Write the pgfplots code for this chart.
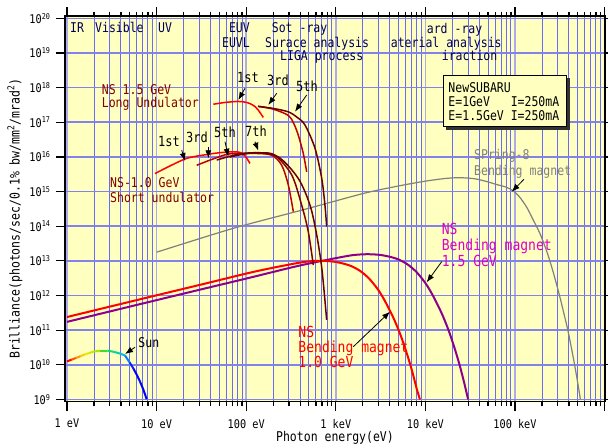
\documentclass[border=0pt]{standalone}
\usepackage{fontspec}
\usepackage{pgfplots}
\pgfplotsset{compat=1.18}
\usetikzlibrary{arrows.meta}
\newfontfamily\gothic[FakeStretch=0.855]{DejaVu Sans Mono}
\newcommand\F[1]{\gothic\fontsize{#1}{#1}\selectfont}
\definecolor{bgyel}{RGB}{255,255,192}
\definecolor{gridmaj}{RGB}{172,172,236}
\definecolor{gridmin}{RGB}{105,105,250}
\definecolor{gridh}{RGB}{130,130,235}
\definecolor{navy}{RGB}{0,0,90}
\definecolor{maroon}{RGB}{128,0,0}
\definecolor{bmpurple}{RGB}{140,0,140}
\definecolor{magtext}{RGB}{220,0,200}
\definecolor{sgrey}{RGB}{128,128,128}
\definecolor{und3}{RGB}{190,0,0}
\definecolor{und5}{RGB}{128,0,0}
\definecolor{und7}{RGB}{105,0,0}
\pgfplotsset{colormap={sun}{rgb255=(255,0,0) rgb255=(255,140,0) rgb255=(255,230,0) rgb255=(170,230,0) rgb255=(40,215,60) rgb255=(0,215,150) rgb255=(0,205,225) rgb255=(0,130,255) rgb255=(0,50,255) rgb255=(0,0,255)}}
\begin{document}
\begin{tikzpicture}
\useasboundingbox (-65bp,-45.3bp) rectangle (543bp,401.7bp);
\begin{axis}[
  at={(0,0)}, anchor=south west,
  scale only axis, width=540bp, height=385.4bp,
  xmode=log, ymode=log,
  xmin=0.95, xmax=1.0104e6,
  ymin=8.65e8, ymax=1.143e20,
  axis background/.style={fill=bgyel},
  xtick={1,10,100,1000,10000,100000,1000000},
  xticklabels={1 eV,10 eV,100 eV,1 keV,10 keV,100 keV,},
  ytick={1e9,1e10,1e11,1e12,1e13,1e14,1e15,1e16,1e17,1e18,1e19,1e20},
  yticklabels={10\textsuperscript{9},10\textsuperscript{10},10\textsuperscript{11},10\textsuperscript{12},10\textsuperscript{13},10\textsuperscript{14},10\textsuperscript{15},10\textsuperscript{16},10\textsuperscript{17},10\textsuperscript{18},10\textsuperscript{19},10\textsuperscript{20}},
  yminorticks=false,
  xmajorgrids=true, xminorgrids=true, ymajorgrids=true,
  major x grid style={gridmaj, line width=1.8bp},
  minor x grid style={gridmin, line width=0.9bp},
  major y grid style={gridh, line width=1.6bp},
  tick align=outside,
  major tick length=9bp, minor tick length=4.5bp,
  tick style={black, line width=1.2bp},
  axis line style={black, line width=1.6bp},
  tick label style={font=\F{12}},
  xticklabel style={yshift=-5bp},
  yticklabel style={xshift=-2bp},
  colormap name=sun, point meta min=0, point meta max=9,
]
% Sun
\addplot[mesh, line width=2bp, point meta=explicit, shader=flat corner] table[meta=c] {
x y c
1.0 1.26e10 0
1.13 1.42e10 0.6
1.26 1.58e10 1.1
1.42 1.79e10 1.7
1.58 2.0e10 2.2
1.77 2.2e10 2.6
1.97 2.4e10 3.0
2.33 2.57e10 3.8
2.82 2.57e10 4.5
3.29 2.4e10 5.3
3.98 2.09e10 6.2
4.44 1.86e10 7.0
5.01 1.17e10 8.3
5.50 7.9e9 9
6.03 5.1e9 9
6.53 3.3e9 9
7.08 2.0e9 9
7.76 1.02e9 9
};
% SPring-8 bending magnet
\addplot[sgrey, line width=1.2bp, smooth] coordinates {
(10,1.78e13) (71.8,8.71e13) (398,2.82e14) (933,5.13e14) (2213,9.33e14) (5212,1.48e15) (10000,2.0e15) (17000,2.40e15) (24500,2.51e15) (35500,2.34e15) (48300,1.95e15) (63100,1.58e15) (79400,1.35e15) (95500,1.05e15) (112000,7.08e14) (135000,3.55e14) (160000,1.51e14) (190500,6.03e13) (230000,1.66e13) (270000,4.27e12) (316000,9.33e11) (350000,3.16e11) (389000,1.0e11) (450000,1.48e10) (500000,3.16e9) (537000,1.0e9)
};
% NS bending magnet 1.5 GeV
\addplot[bmpurple, line width=2bp, smooth] coordinates {
(1,1.74e11) (5.01,4.79e11) (30.5,1.48e12) (100,3.09e12) (308,6.31e12) (515,8.51e12) (1000,1.20e13) (1500,1.45e13) (2028,1.55e13) (2512,1.55e13) (3162,1.48e13) (3981,1.32e13) (5012,1.10e13) (6310,7.94e12) (7943,4.79e12) (10000,2.29e12) (12000,1.05e12) (15000,3.31e11) (18000,1.05e11) (21000,3.24e10) (24000,1.02e10) (27000,3.16e9) (30000,1.0e9)
};
% NS bending magnet 1.0 GeV
\addplot[red, line width=2bp, smooth] coordinates {
(1,2.40e11) (9.04,9.55e11) (29.63,2.0e12) (91.3,4.07e12) (152.6,5.50e12) (296.3,7.76e12) (444.4,9.33e12) (600.9,1.0e13) (744.3,1.0e13) (936.9,9.55e12) (1179.6,8.51e12) (1485,7.08e12) (1870,5.13e12) (2353,3.09e12) (2963,1.48e12) (3556,6.76e11) (4444,2.14e11) (5333,6.76e10) (6222,2.09e10) (7111,6.61e9) (8000,2.04e9) (8700,1.0e9)
};
% NS 1.5 GeV long undulator
\addplot[red, line width=1.5bp, smooth] coordinates {
(42.95,3.31e17) (57.5,3.72e17) (78.3,3.98e17) (93.3,3.89e17) (110.2,3.47e17) (125.9,2.82e17) (136.5,2.24e17) (155.2,1.38e17)
};
\addplot[und3, line width=1.5bp, smooth] coordinates {
(135.5,2.88e17) (199.5,2.40e17) (295,1.58e17) (338.8,9.33e16) (381,4.27e16) (433.5,1.26e16) (473,3.72e15)
};
\addplot[und7, line width=1.5bp, smooth] coordinates {
(135.5,2.88e17) (199.5,2.51e17) (295,2.0e17) (371.5,1.38e17) (452.9,8.32e16) (586,1.78e16) (696.6,2.40e15) (756.8,4.07e14) (790.7,9.77e13)
};
% NS 1.0 GeV short undulator
\addplot[red, line width=1.5bp, smooth] coordinates {
(9.6,3.31e15) (20.75,8.71e15) (36.2,1.17e16) (50.1,1.32e16) (71.8,1.41e16) (85.3,1.35e16) (97.7,1.05e16) (110.2,6.46e15)
};
\addplot[und3, line width=1.5bp, smooth] coordinates {
(28.05,5.75e15) (44.7,9.12e15) (65.9,1.23e16) (125.3,1.26e16) (192.8,1.12e16) (248.9,5.75e15) (295.1,1.55e15) (335.7,2.63e14)
};
\addplot[und5, line width=1.5bp, smooth] coordinates {
(46.9,8.13e15) (85.3,1.23e16) (142.6,1.32e16) (209.4,1.12e16) (322.1,3.02e15) (415.9,4.07e14) (493.2,6.92e13) (561.0,7.59e12)
};
\addplot[und7, line width=1.5bp, smooth] coordinates {
(65.9,1.0e16) (125.3,1.32e16) (228.0,1.0e16) (381.0,2.40e15) (515.2,4.07e14) (612.4,5.62e13) (701.5,5.50e12) (790.7,2.0e11)
};
\end{axis}
\begin{scope}[x=1bp,y=-1bp,shift={(-65bp,401.7bp)}, every node/.style={inner sep=0pt}]
% axis titles
\node[font=\F{13.5}, anchor=base] at (335,441.5) {Photon energy(eV)};
\node[font=\F{13.5}, rotate=90] at (15,218.5) {Brilliance(photons/sec/0.1\% bw/mm\textsuperscript{2}/mrad\textsuperscript{2})};
% regions
\begin{scope}[every node/.append style={font=\F{13.5}, text=navy}]
\node[anchor=base west] at (70,33) {IR};
\node[anchor=base west] at (95,33) {Visible};
\node[anchor=base west] at (158,33) {UV};
\node[anchor=base east] at (250,33) {EUV};
\node[anchor=base east] at (250,47.5) {EUVL};
\node[anchor=base west] at (271.7,33) {Sot -ray};
\node[anchor=base west] at (265,47.5) {Surace analysis};
\node[anchor=base west] at (280,60.5) {LIGA process};
\node[anchor=base west] at (426.7,34) {ard -ray};
\node[anchor=base west] at (390.7,47.5) {aterial analysis};
\node[anchor=base west] at (441.7,61) {iraction};
\end{scope}
% undulator labels
\begin{scope}[every node/.append style={font=\F{13.5}, text=maroon, anchor=base west}]
\node at (101.7,94.5) {NS 1.5 GeV};
\node at (101.7,108) {Long Undulator};
\node at (110,188) {NS-1.0 GeV};
\node at (110,203) {Short undulator};
\end{scope}
\begin{scope}[every node/.append style={font=\F{14}, anchor=base}]
\node at (248,83) {1st};
\node at (278,86) {3rd};
\node at (307,92) {5th};
\node at (169,147) {1st};
\node at (197,143) {3rd};
\node at (225,138) {5th};
\node at (256,137) {7th};
\end{scope}
\begin{scope}[-{Latex[length=8bp,width=6bp]}, line width=0.8bp]
\draw (245,88.3) -- (238.3,100);
\draw (276.7,93.3) -- (268.3,105);
\draw (306.7,95) -- (295,111.7);
\draw (181.7,150) -- (185,161);
\draw (208.3,146.7) -- (208.3,158.3);
\draw (225,141.7) -- (228.3,156.7);
\draw (255,141.7) -- (258.3,150.7);
\draw (524,179.3) -- (511.7,191.7);
\draw (441.7,261.7) -- (426.7,282.3);
\draw (353.3,346.7) -- (390,311.7);
\draw (135,347.3) -- (125,354);
\end{scope}
% legend box
\fill[black!80] (446.3,78) rectangle (569.7,129.7);
\filldraw[fill=bgyel, draw=black, line width=0.9bp] (443.3,75) rectangle (566.7,126.7);
\begin{scope}[every node/.append style={font=\F{13.5}, anchor=base west}]
\node at (448.3,93) {NewSUBARU};
\node at (448.3,107) {E=1GeV~~~I=250mA};
\node at (448.3,121) {E=1.5GeV~I=250mA};
\end{scope}
% bending magnet labels
\begin{scope}[every node/.append style={font=\F{13.5}, text=sgrey, anchor=base west}]
\node at (474,160) {SPring-8};
\node at (474,175.5) {Bending magnet};
\end{scope}
\begin{scope}[every node/.append style={font=\F{15.3}, text=magtext, anchor=base west}]
\node at (441.7,234.5) {NS};
\node at (441.7,250.5) {Bending magnet};
\node at (441.7,266.5) {1.5 GeV};
\end{scope}
\begin{scope}[every node/.append style={font=\F{15.3}, text=red, anchor=base west}]
\node at (298.3,338) {NS};
\node at (298.3,353) {Bending magnet};
\node at (298.3,368) {1.0 GeV};
\end{scope}
\node[font=\F{13.5}, anchor=base west] at (138.3,347.3) {Sun};
\end{scope}
\end{tikzpicture}
\end{document}
